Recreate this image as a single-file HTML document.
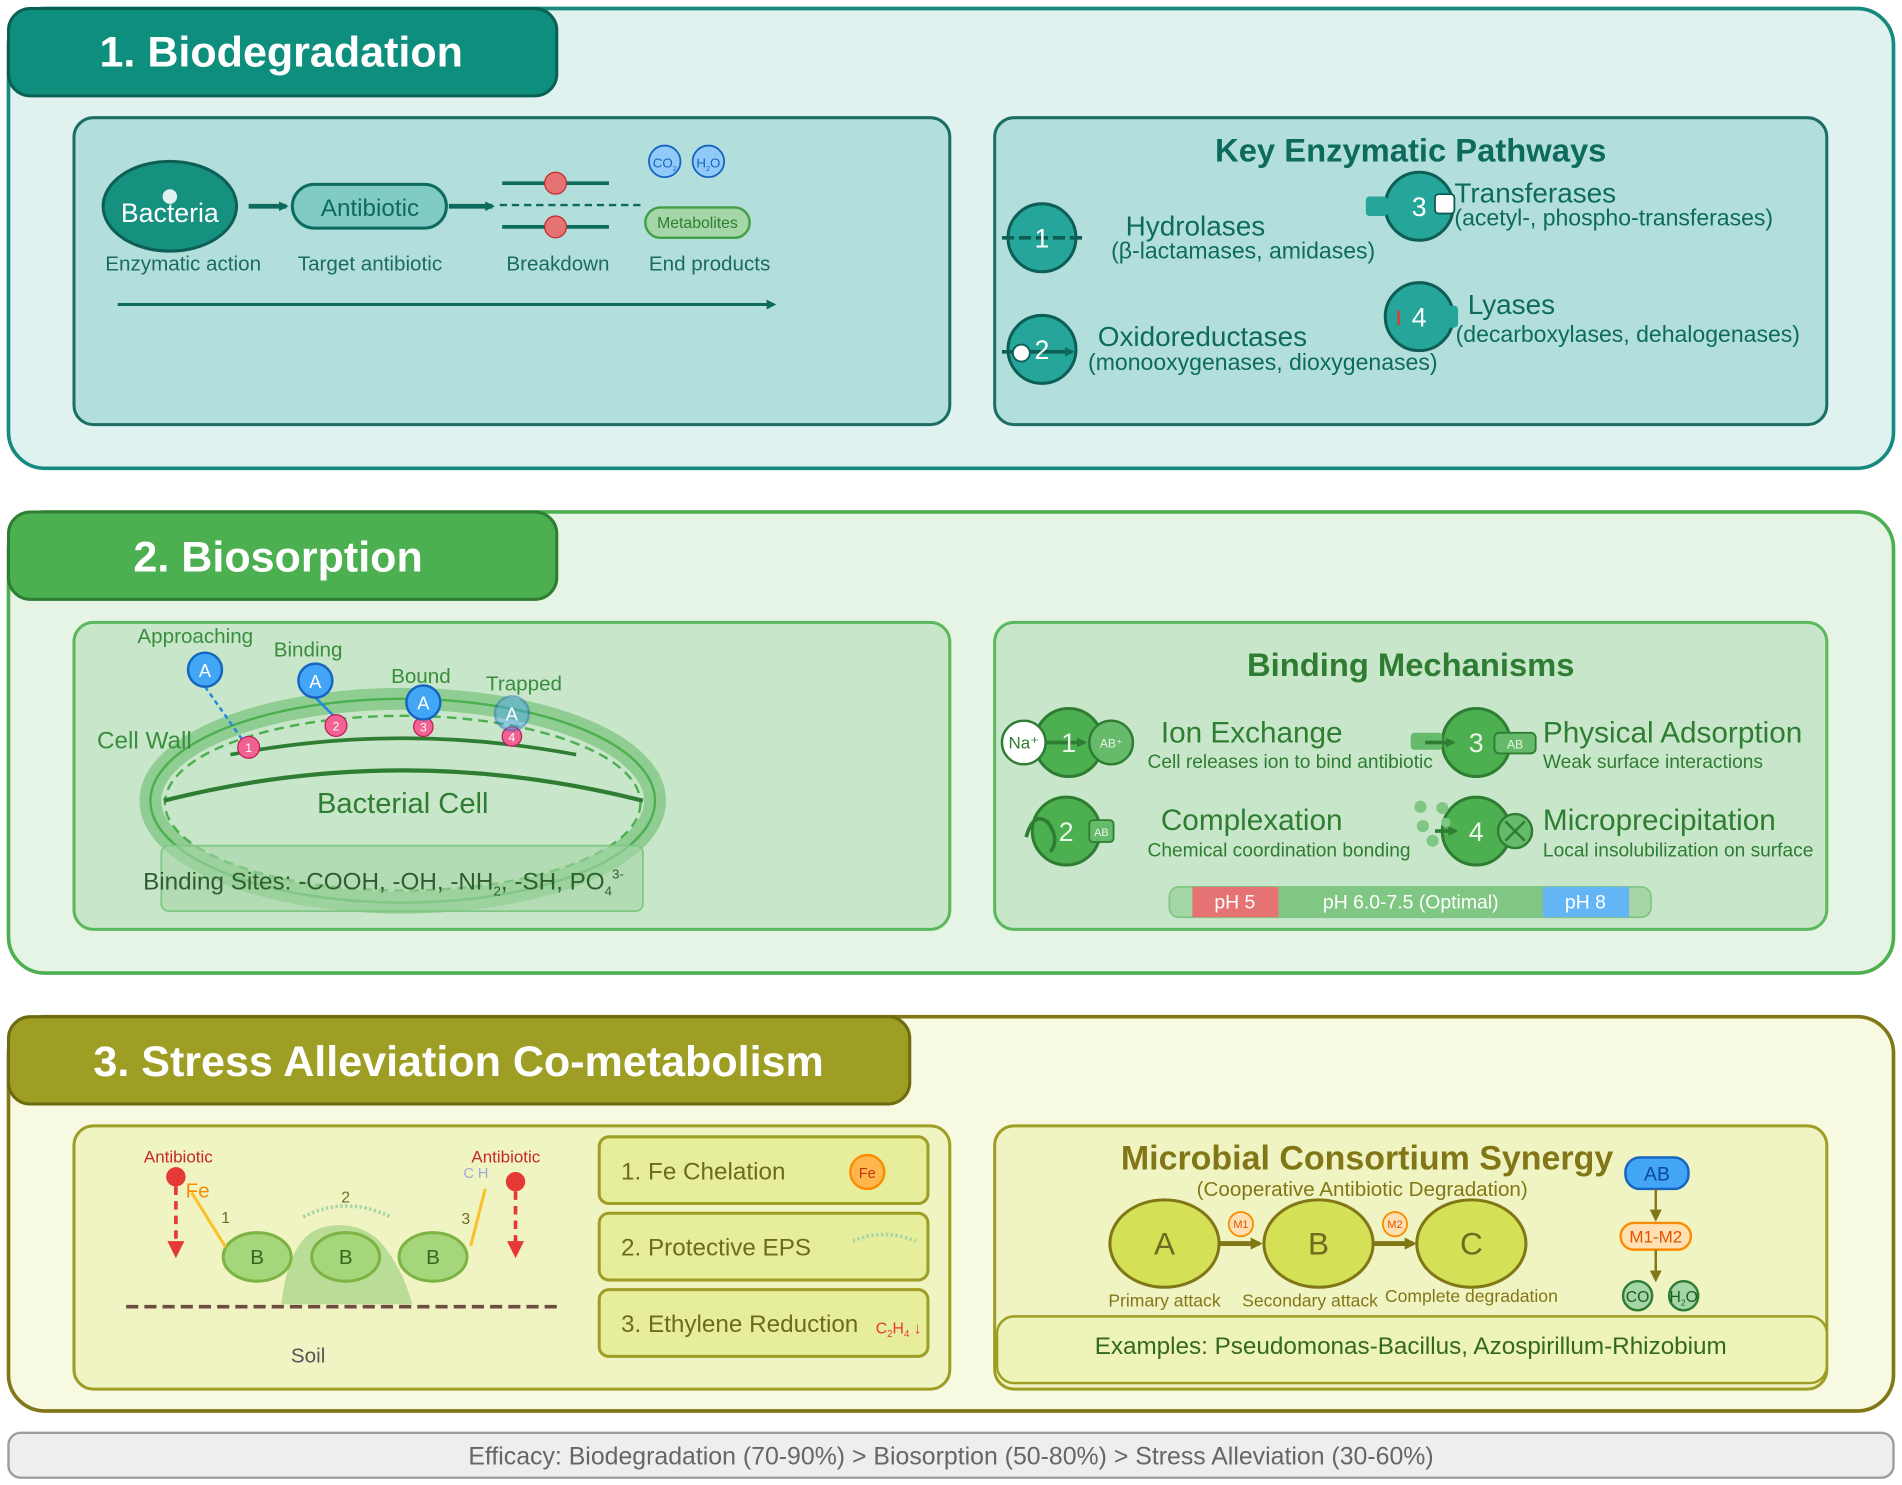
<!DOCTYPE html>
<html><head><meta charset="utf-8"><style>
html,body{margin:0;padding:0;background:#fff;}
svg{display:block;font-family:"Liberation Sans",sans-serif;}
</style></head><body>
<svg width="1902" height="1485" viewBox="0 0 1568 1224" preserveAspectRatio="none" xmlns="http://www.w3.org/2000/svg">
<defs>
<marker id="at" markerWidth="8" markerHeight="8" refX="6" refY="4" orient="auto" markerUnits="userSpaceOnUse"><path d="M0,0 L8,4 L0,8 z" fill="#0d6b5e"/></marker>
<marker id="ag" markerWidth="8" markerHeight="8" refX="6" refY="4" orient="auto" markerUnits="userSpaceOnUse"><path d="M0,0 L8,4 L0,8 z" fill="#2e7d32"/></marker>
<marker id="ao" markerWidth="10" markerHeight="10" refX="7" refY="5" orient="auto" markerUnits="userSpaceOnUse"><path d="M0,0 L10,5 L0,10 z" fill="#827717"/></marker>
<marker id="ar" markerWidth="14" markerHeight="14" refX="7" refY="7" orient="auto" markerUnits="userSpaceOnUse"><path d="M0,0 L14,7 L0,14 z" fill="#e53935"/></marker>
</defs>

<!-- SECTION 1 -->
<rect x="7" y="7" width="1554" height="379" rx="30" fill="#e0f2f0" stroke="#168a7e" stroke-width="3"/>
<rect x="7" y="7" width="452" height="72" rx="18" fill="#0e8f7e" stroke="#0b5f54" stroke-width="2.5"/>
<text x="82" y="55" font-size="35.5" font-weight="bold" fill="#fff">1. Biodegradation</text>
<rect x="61" y="97" width="722" height="253" rx="16" fill="#b2dfdb" stroke="#1a6e63" stroke-width="2.5"/>
<rect x="820" y="97" width="686" height="253" rx="16" fill="#b2dfdb" stroke="#1a6e63" stroke-width="2.5"/>

<ellipse cx="140" cy="170" rx="55" ry="37" fill="#16907f" stroke="#0d5e55" stroke-width="2.5"/>
<circle cx="140" cy="162" r="6" fill="#e0f2f0"/>
<text x="140" y="183" font-size="22" fill="#fff" text-anchor="middle">Bacteria</text>
<line x1="205" y1="170" x2="236" y2="170" stroke="#0d6b5e" stroke-width="4" marker-end="url(#at)"/>
<rect x="241" y="152" width="127" height="36" rx="18" fill="#80cbc4" stroke="#0d6b5e" stroke-width="2.5"/>
<text x="305" y="178" font-size="20" fill="#0d6b5e" text-anchor="middle">Antibiotic</text>
<line x1="370" y1="170" x2="406" y2="170" stroke="#0d6b5e" stroke-width="4" marker-end="url(#at)"/>
<line x1="412" y1="169" x2="530" y2="169" stroke="#0d6b5e" stroke-width="2" stroke-dasharray="6,4"/>
<line x1="414" y1="151" x2="502" y2="151" stroke="#0d6b5e" stroke-width="3"/>
<line x1="414" y1="187" x2="502" y2="187" stroke="#0d6b5e" stroke-width="3"/>
<circle cx="458" cy="151" r="9" fill="#e57373" stroke="#c62828" stroke-width="1"/>
<circle cx="458" cy="187" r="9" fill="#e57373" stroke="#c62828" stroke-width="1"/>
<circle cx="548" cy="133" r="13" fill="#90caf9" stroke="#1565c0" stroke-width="1.5"/>
<text x="548" y="138" font-size="11" fill="#1565c0" text-anchor="middle">CO<tspan font-size="6" dy="3">2</tspan></text>
<circle cx="584" cy="133" r="13" fill="#90caf9" stroke="#1565c0" stroke-width="1.5"/>
<text x="584" y="138" font-size="11" fill="#1565c0" text-anchor="middle">H<tspan font-size="6" dy="3">2</tspan><tspan dy="-3">O</tspan></text>
<rect x="532" y="171" width="86" height="25" rx="12.5" fill="#a5d6a7" stroke="#43a047" stroke-width="2"/>
<text x="575" y="188" font-size="13" fill="#2e7d32" text-anchor="middle">Metabolites</text>
<g font-size="17" fill="#1a6b60" text-anchor="middle">
<text x="151" y="223">Enzymatic action</text>
<text x="305" y="223">Target antibiotic</text>
<text x="460" y="223">Breakdown</text>
<text x="585" y="223">End products</text>
</g>
<line x1="97" y1="251" x2="638" y2="251" stroke="#0d6b5e" stroke-width="2.5" marker-end="url(#at)"/>

<text x="1163" y="133" font-size="27" font-weight="bold" fill="#0d6b5e" text-anchor="middle">Key Enzymatic Pathways</text>
<g fill="#26a69a" stroke="#0d5e55" stroke-width="2.5">
<circle cx="859" cy="196" r="28"/><circle cx="1170" cy="170" r="28"/>
<circle cx="859" cy="288" r="28"/><circle cx="1170" cy="261" r="28"/>
</g>
<line x1="826" y1="196" x2="895" y2="196" stroke="#0d5e55" stroke-width="3" stroke-dasharray="10,4"/>
<rect x="1126" y="162" width="18" height="16" rx="3" fill="#26a69a"/>
<rect x="1183" y="160" width="16" height="16" rx="3" fill="#fff" stroke="#0d5e55" stroke-width="1.5"/>
<line x1="826" y1="290" x2="884" y2="290" stroke="#0d5e55" stroke-width="3" marker-end="url(#at)"/>
<circle cx="842" cy="291" r="7" fill="#fff" stroke="#0d5e55" stroke-width="1.5"/>
<rect x="1176" y="252" width="26" height="18" rx="3" fill="#26a69a"/>
<line x1="1153" y1="256" x2="1153" y2="268" stroke="#e53935" stroke-width="2"/>
<g font-size="22" fill="#fff" text-anchor="middle"><text x="859" y="204">1</text><text x="1170" y="178">3</text><text x="859" y="296">2</text><text x="1170" y="269">4</text></g>
<g fill="#0d6b5e">
<text x="928" y="194" font-size="23">Hydrolases</text>
<text x="916" y="213" font-size="19">(β-lactamases, amidases)</text>
<text x="1199" y="167" font-size="23">Transferases</text>
<text x="1199" y="186" font-size="19">(acetyl-, phospho-transferases)</text>
<text x="905" y="285" font-size="23">Oxidoreductases</text>
<text x="897" y="305" font-size="19">(monooxygenases, dioxygenases)</text>
<text x="1210" y="259" font-size="23">Lyases</text>
<text x="1200" y="282" font-size="19">(decarboxylases, dehalogenases)</text>
</g>

<!-- SECTION 2 -->
<rect x="7" y="422" width="1554" height="380" rx="30" fill="#e6f4e6" stroke="#4caf50" stroke-width="3"/>
<rect x="7" y="422" width="452" height="72" rx="18" fill="#4caf50" stroke="#2e7d32" stroke-width="2.5"/>
<text x="110" y="471" font-size="35.5" font-weight="bold" fill="#fff">2. Biosorption</text>
<rect x="61" y="513" width="722" height="253" rx="16" fill="#c8e6c9" stroke="#5cb85c" stroke-width="2.5"/>
<rect x="820" y="513" width="686" height="253" rx="16" fill="#c8e6c9" stroke="#5cb85c" stroke-width="2.5"/>

<ellipse cx="332" cy="660" rx="208" ry="84" fill="none" stroke="#81c784" stroke-width="18" opacity="0.8"/>
<ellipse cx="332" cy="660" rx="208" ry="84" fill="none" stroke="#4caf50" stroke-width="2"/>
<ellipse cx="332" cy="662" rx="196" ry="72" fill="none" stroke="#4caf50" stroke-width="2" stroke-dasharray="8,5"/>
<path d="M135 660 Q332 610 530 660" fill="none" stroke="#2e7d32" stroke-width="3.5"/>
<path d="M190 622 Q332 595 475 622" fill="none" stroke="#2e7d32" stroke-width="3"/>
<text x="332" y="670" font-size="24" fill="#2e7d32" text-anchor="middle">Bacterial Cell</text>
<text x="80" y="617" font-size="20" fill="#388e3c">Cell Wall</text>
<rect x="133" y="697" width="397" height="54" rx="6" fill="#a5d6a7" fill-opacity="0.6" stroke="#81c784" stroke-width="1.5"/>
<text x="118" y="733" font-size="20" fill="#2e5e2e">Binding Sites: -COOH, -OH, -NH<tspan font-size="11" dy="5">2</tspan><tspan dy="-5">, -SH, PO</tspan><tspan font-size="11" dy="5">4</tspan><tspan font-size="11" dy="-14">3-</tspan></text>
<line x1="169" y1="566" x2="200" y2="610" stroke="#1e88e5" stroke-width="2" stroke-dasharray="4,3"/>
<line x1="260" y1="575" x2="277" y2="592" stroke="#1e88e5" stroke-width="2"/>
<g fill="#f06292" stroke="#c2185b" stroke-width="1">
<circle cx="205" cy="616" r="9"/><circle cx="277" cy="598" r="9"/><circle cx="349" cy="599" r="8"/><circle cx="422" cy="607" r="8"/>
</g>
<g font-size="10" fill="#fff" text-anchor="middle"><text x="205" y="620">1</text><text x="277" y="602">2</text><text x="349" y="603">3</text><text x="422" y="611">4</text></g>
<g fill="#42a5f5" stroke="#1565c0" stroke-width="2">
<circle cx="169" cy="552" r="14"/><circle cx="260" cy="561" r="14"/><circle cx="349" cy="579" r="14"/>
<circle cx="422" cy="588" r="14" opacity="0.45"/>
</g>
<g font-size="15" fill="#fff" text-anchor="middle"><text x="169" y="558">A</text><text x="260" y="567">A</text><text x="349" y="585">A</text><text x="422" y="594">A</text></g>
<g font-size="17" fill="#388e3c" text-anchor="middle">
<text x="161" y="530">Approaching</text><text x="254" y="541">Binding</text><text x="347" y="563">Bound</text><text x="432" y="569">Trapped</text>
</g>

<text x="1163" y="557" font-size="27" font-weight="bold" fill="#2e7d32" text-anchor="middle">Binding Mechanisms</text>
<g fill="#4caf50" stroke="#2e7d32" stroke-width="2.5">
<circle cx="881" cy="612" r="28"/><circle cx="1217" cy="612" r="28"/><circle cx="879" cy="685" r="28"/><circle cx="1217" cy="685" r="28"/>
</g>
<circle cx="844" cy="612" r="18" fill="#fff" stroke="#2e7d32" stroke-width="2"/>
<text x="844" y="617" font-size="14" fill="#2e7d32" text-anchor="middle">Na⁺</text>
<circle cx="916" cy="612" r="18" fill="#66bb6a" stroke="#2e7d32" stroke-width="2"/>
<text x="916" y="616" font-size="10" fill="#e8f5e9" text-anchor="middle">AB⁺</text>
<line x1="862" y1="612" x2="894" y2="612" stroke="#2e7d32" stroke-width="3" marker-end="url(#ag)"/>
<rect x="1163" y="604" width="26" height="14" rx="3" fill="#66bb6a"/>
<line x1="1175" y1="612" x2="1198" y2="612" stroke="#2e7d32" stroke-width="3" marker-end="url(#ag)"/>
<rect x="1232" y="604" width="34" height="17" rx="4" fill="#66bb6a" stroke="#2e7d32" stroke-width="1.5"/>
<text x="1249" y="617" font-size="10" fill="#e8f5e9" text-anchor="middle">AB</text>
<path d="M846 690 Q852 668 864 678 Q874 692 866 702" fill="none" stroke="#2e7d32" stroke-width="3"/>
<rect x="898" y="676" width="20" height="18" rx="3" fill="#66bb6a" stroke="#2e7d32" stroke-width="1.5"/>
<text x="908" y="689" font-size="9" fill="#e8f5e9" text-anchor="middle">AB</text>
<g fill="#81c784"><circle cx="1171" cy="665" r="5"/><circle cx="1189" cy="666" r="5"/><circle cx="1173" cy="681" r="5"/><circle cx="1181" cy="693" r="5"/><circle cx="1192" cy="678" r="4"/></g>
<line x1="1183" y1="685" x2="1200" y2="685" stroke="#2e7d32" stroke-width="3" marker-end="url(#ag)"/>
<circle cx="1249" cy="685" r="14" fill="#66bb6a" stroke="#2e7d32" stroke-width="2"/>
<path d="M1241 677 L1257 693 M1257 677 L1241 693" stroke="#2e7d32" stroke-width="2"/>
<g font-size="22" fill="#e8f5e9" text-anchor="middle"><text x="881" y="620">1</text><text x="1217" y="620">3</text><text x="879" y="693">2</text><text x="1217" y="693">4</text></g>
<g fill="#2e7d32">
<text x="957" y="612" font-size="24.5">Ion Exchange</text>
<text x="946" y="633" font-size="15.8">Cell releases ion to bind antibiotic</text>
<text x="1272" y="612" font-size="24.5">Physical Adsorption</text>
<text x="1272" y="633" font-size="15.8">Weak surface interactions</text>
<text x="957" y="684" font-size="24.5">Complexation</text>
<text x="946" y="706" font-size="15.8">Chemical coordination bonding</text>
<text x="1272" y="684" font-size="24.5">Microprecipitation</text>
<text x="1272" y="706" font-size="15.8">Local insolubilization on surface</text>
</g>
<rect x="964" y="731" width="397" height="25" rx="8" fill="#a5d6a7" stroke="#81c784" stroke-width="1.5"/>
<rect x="983" y="731" width="71" height="25" fill="#e57373"/>
<rect x="1054" y="731" width="218" height="25" fill="#81c784"/>
<rect x="1272" y="731" width="71" height="25" fill="#64b5f6"/>
<g font-size="16" fill="#fff" text-anchor="middle"><text x="1018" y="749">pH 5</text><text x="1163" y="749">pH 6.0-7.5 (Optimal)</text><text x="1307" y="749">pH 8</text></g>

<!-- SECTION 3 -->
<rect x="7" y="838" width="1554" height="325" rx="30" fill="#f7f9e0" stroke="#827717" stroke-width="3"/>
<rect x="7" y="838" width="743" height="72" rx="18" fill="#9e9d24" stroke="#6d6b10" stroke-width="2.5"/>
<text x="77" y="887" font-size="35.5" font-weight="bold" fill="#fff">3. Stress Alleviation Co-metabolism</text>
<rect x="61" y="928" width="722" height="217" rx="16" fill="#f0f4c3" stroke="#9e9d24" stroke-width="2.5"/>
<rect x="820" y="928" width="686" height="217" rx="16" fill="#f0f4c3" stroke="#9e9d24" stroke-width="2.5"/>

<path d="M232 1075 Q238 1020 265 1012 Q290 1005 310 1020 Q330 1040 340 1075 Z" fill="#b9dc96"/>
<line x1="104" y1="1077" x2="460" y2="1077" stroke="#6d4c41" stroke-width="3" stroke-dasharray="10,5"/>
<g fill="#a5d67a" stroke="#7cb342" stroke-width="2.5">
<ellipse cx="212" cy="1036" rx="28" ry="20"/><ellipse cx="285" cy="1036" rx="28" ry="20"/><ellipse cx="357" cy="1036" rx="28" ry="20"/>
</g>
<g font-size="17" fill="#33691e" text-anchor="middle"><text x="212" y="1042">B</text><text x="285" y="1042">B</text><text x="357" y="1042">B</text></g>
<path d="M250 1003 Q285 985 322 1003" fill="none" stroke="#a5d6a7" stroke-width="3" stroke-dasharray="2,2"/>
<line x1="158" y1="983" x2="186" y2="1028" stroke="#fbc02d" stroke-width="2.5"/>
<line x1="400" y1="980" x2="388" y2="1027" stroke="#fbc02d" stroke-width="2.5"/>
<line x1="145" y1="978" x2="145" y2="1030" stroke="#e53935" stroke-width="3" stroke-dasharray="7,5" marker-end="url(#ar)"/>
<line x1="425" y1="982" x2="425" y2="1030" stroke="#e53935" stroke-width="3" stroke-dasharray="7,5" marker-end="url(#ar)"/>
<circle cx="145" cy="970" r="8" fill="#e53935"/>
<circle cx="425" cy="974" r="8" fill="#e53935"/>
<g font-size="14" fill="#c62828" text-anchor="middle"><text x="147" y="958">Antibiotic</text><text x="417" y="958">Antibiotic</text></g>
<text x="153" y="987" font-size="17" fill="#fb8c00">Fe</text>
<text x="382" y="971" font-size="12" fill="#9fa8da">C H</text>
<g font-size="13" fill="#6d6b1e" text-anchor="middle"><text x="186" y="1008">1</text><text x="285" y="991">2</text><text x="384" y="1009">3</text></g>
<text x="254" y="1123" font-size="17" fill="#555" text-anchor="middle">Soil</text>
<g fill="#e6ee9c" stroke="#9e9d24" stroke-width="2.5">
<rect x="494" y="937" width="271" height="55" rx="8"/><rect x="494" y="1000" width="271" height="55" rx="8"/><rect x="494" y="1063" width="271" height="55" rx="8"/>
</g>
<g font-size="20" fill="#6d6b1e">
<text x="512" y="972">1. Fe Chelation</text><text x="512" y="1035">2. Protective EPS</text><text x="512" y="1098">3. Ethylene Reduction</text>
</g>
<circle cx="715" cy="966" r="14" fill="#ffb74d" stroke="#fb8c00" stroke-width="2"/>
<text x="715" y="971" font-size="12" fill="#bf360c" text-anchor="middle">Fe</text>
<path d="M703 1023 Q728 1012 755 1023" fill="none" stroke="#a5d6a7" stroke-width="3" stroke-dasharray="2,2"/>
<text x="722" y="1099" font-size="13" fill="#e53935">C<tspan font-size="8" dy="3">2</tspan><tspan dy="-3">H</tspan><tspan font-size="8" dy="3">4</tspan><tspan dy="-3"> ↓</tspan></text>

<text x="1127" y="964" font-size="28" font-weight="bold" fill="#827717" text-anchor="middle">Microbial Consortium Synergy</text>
<text x="1123" y="986" font-size="17" fill="#827717" text-anchor="middle">(Cooperative Antibiotic Degradation)</text>
<line x1="1005" y1="1025" x2="1038" y2="1025" stroke="#827717" stroke-width="4" marker-end="url(#ao)"/>
<line x1="1132" y1="1025" x2="1165" y2="1025" stroke="#827717" stroke-width="4" marker-end="url(#ao)"/>
<g fill="#d4e157" stroke="#827717" stroke-width="2.5">
<ellipse cx="960" cy="1025" rx="45" ry="36"/><ellipse cx="1087" cy="1025" rx="45" ry="36"/><ellipse cx="1213" cy="1025" rx="45" ry="36"/>
</g>
<g font-size="26" fill="#6d6b1e" text-anchor="middle"><text x="960" y="1034">A</text><text x="1087" y="1034">B</text><text x="1213" y="1034">C</text></g>
<g fill="#ffe0b2" stroke="#fb8c00" stroke-width="1.5"><circle cx="1023" cy="1009" r="10"/><circle cx="1150" cy="1009" r="10"/></g>
<g font-size="9" fill="#e65100" text-anchor="middle"><text x="1023" y="1012">M1</text><text x="1150" y="1012">M2</text></g>
<g font-size="14.5" fill="#827717" text-anchor="middle"><text x="960" y="1077">Primary attack</text><text x="1080" y="1077">Secondary attack</text><text x="1213" y="1073">Complete degradation</text></g>
<rect x="1340" y="954" width="52" height="26" rx="12" fill="#42a5f5" stroke="#1565c0" stroke-width="2"/>
<text x="1366" y="973" font-size="16" fill="#0d47a1" text-anchor="middle">AB</text>
<line x1="1365" y1="980" x2="1365" y2="1004" stroke="#827717" stroke-width="2" marker-end="url(#ao)"/>
<rect x="1336" y="1008" width="58" height="22" rx="11" fill="#ffe0b2" stroke="#fb8c00" stroke-width="2"/>
<text x="1365" y="1024" font-size="14" fill="#e65100" text-anchor="middle">M1-M2</text>
<line x1="1365" y1="1030" x2="1365" y2="1054" stroke="#827717" stroke-width="2" marker-end="url(#ao)"/>
<g fill="#a5d6a7" stroke="#2e7d32" stroke-width="2"><circle cx="1350" cy="1068" r="12"/><circle cx="1388" cy="1068" r="12"/></g>
<text x="1350" y="1073" font-size="13" fill="#1b5e20" text-anchor="middle">CO</text>
<text x="1388" y="1073" font-size="13" fill="#1b5e20" text-anchor="middle">H<tspan font-size="7" dy="3">2</tspan><tspan dy="-3">O</tspan></text>
<rect x="822" y="1085" width="684" height="55" rx="14" fill="#eef3b7" stroke="#9e9d24" stroke-width="2"/>
<text x="1163" y="1116" font-size="20" fill="#33691e" text-anchor="middle">Examples: Pseudomonas-Bacillus, Azospirillum-Rhizobium</text>

<!-- FOOTER -->
<rect x="7" y="1181" width="1554" height="37" rx="10" fill="#eeeeee" stroke="#9e9e9e" stroke-width="2"/>
<text x="784" y="1207" font-size="20.5" fill="#666" text-anchor="middle">Efficacy: Biodegradation (70-90%) &gt; Biosorption (50-80%) &gt; Stress Alleviation (30-60%)</text>
</svg>
</body></html>
